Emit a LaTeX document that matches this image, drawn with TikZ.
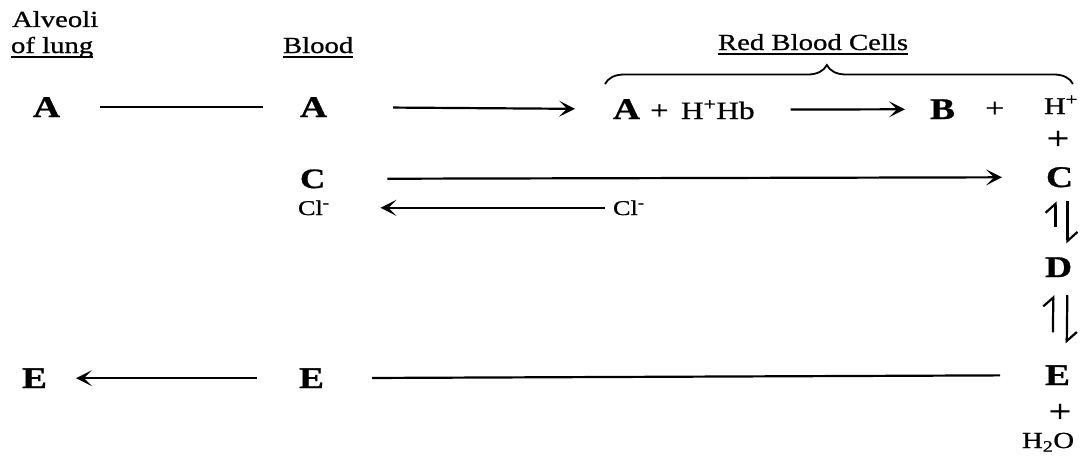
\documentclass[tikz,border=0pt]{standalone}
\usepackage{fontspec}
\setmainfont[FakeStretch=1.25,FakeBold=0.9]{Liberation Serif}
\usetikzlibrary{arrows.meta,decorations.pathreplacing}
\tikzset{
  txt/.style={inner sep=0pt, outer sep=0pt, anchor=base west},
  lbl/.style={txt, font=\fontsize{23}{27}\selectfont},
  species/.style={txt, font=\fontsize{30}{34}\selectfont\bfseries},
  ion/.style={txt, font=\fontsize{21}{25}\selectfont},
  plusnode/.style={inner sep=0pt, font=\fontsize{32}{34}\selectfont},
  ul/.style={line width=1.6pt},
  conn/.style={line width=2.2pt},
  ar/.style={conn, -{Stealth[length=16pt,width=16pt,inset=8pt]}},
  harp/.style={line width=2.2pt, -{Straight Barb[left,length=9pt,width=20pt]}},
}
\begin{document}
\begin{tikzpicture}[x=1pt,y=-1pt]
\useasboundingbox (0,0) rectangle (1083,455);

% compartment headings
\node[lbl] (alv)  at (12,27)  {Alveoli};
\node[lbl] (lung) at (11,53)  {of lung};
\node[lbl] (blood) at (283,53) {Blood};
\node[lbl] (rbc) at (718,50) {Red Blood Cells};
\foreach \n in {lung,blood,rbc}
  \draw[ul] ([yshift=-4pt]\n.base west) -- ([yshift=-4pt]\n.base east);

% brace over the red blood cell reactions
\coordinate (rbcL) at (605,84);
\coordinate (rbcR) at (1073,84);
\draw[line width=1.8pt, decorate,
      decoration={brace, amplitude=19pt, aspect=0.474}] (rbcL) -- (rbcR);

% first row
\node[species] (Aal) at (33,117)  {A};
\node[species] (Ab)  at (300,117) {A};
\node[species] (Ar)  at (613,119) {A};
\node[plusnode, anchor=base west, font=\fontsize{26}{28}\selectfont] (p1) at (650,119) {+};
\node[txt, font=\fontsize{25}{29}\selectfont] (HHb) at (681,119) {H\textsuperscript{+}Hb};
\node[species] (B) at (930,119) {B};
\node[plusnode, anchor=base west, font=\fontsize{27}{30}\selectfont] (p2) at (985,117) {+};
\node[txt, font=\fontsize{24}{28}\selectfont] (Hp) at (1044,114) {H\textsuperscript{+}};
\node[plusnode] (p3) at (1058,140) {+};

% second row
\node[species, font=\fontsize{28}{32}\selectfont\bfseries] (Cb) at (300,188) {C};
\node[ion] (Clb) at (298,215) {Cl\textsuperscript{-}};
\node[ion] (Clr) at (613,215) {Cl\textsuperscript{-}};
\node[species] (Cr) at (1046,187) {C};
\node[species] (D) at (1045,277) {D};

% third row
\node[species] (Er) at (1045,385) {E};
\node[plusnode] (p4) at (1060,413) {+};
\node[txt, font=\fontsize{23}{27}\selectfont] (water) at (1022,448) {H\textsubscript{2}O};
\node[species] (El) at (22,388) {E};
\node[species] (Eb) at (299,388) {E};

% transport and reaction arrows
\draw[conn, shorten <=40pt, shorten >=37pt] (Aal.east) -- (Ab.west);
\draw[ar, shorten <=66pt, shorten >=38pt] (Ab.east) -- (Ar.west);
\draw[ar, shorten <=36pt, shorten >=25pt] (HHb.east) -- (B.west);
\draw[ar, shorten <=62pt, shorten >=44pt] (Cb.east) -- (Cr.west);
\draw[ar, shorten <=8pt, shorten >=51pt] (Clr.west) -- (Clb.east);
\draw[conn, shorten <=48pt, shorten >=45pt] (Eb.east) -- (Er.west);
\draw[ar, shorten <=42pt, shorten >=29pt] (Eb.west) -- (El.east);

% equilibria C <-> D <-> E
\draw[harp, shorten <=30pt, shorten >=14pt] ([xshift=-3pt]D.north) -- ([xshift=-4pt]Cr.south);
\draw[harp, shorten <=14pt, shorten >=14pt] ([xshift=8pt]Cr.south) -- ([xshift=9pt]D.north);
\draw[harp, shorten <=33pt, shorten >=18pt] ([xshift=-5pt]Er.north) -- ([xshift=-5pt]D.south);
\draw[harp, shorten <=18pt, shorten >=22pt] ([xshift=9pt]D.south) -- ([xshift=9pt]Er.north);
\end{tikzpicture}
\end{document}
